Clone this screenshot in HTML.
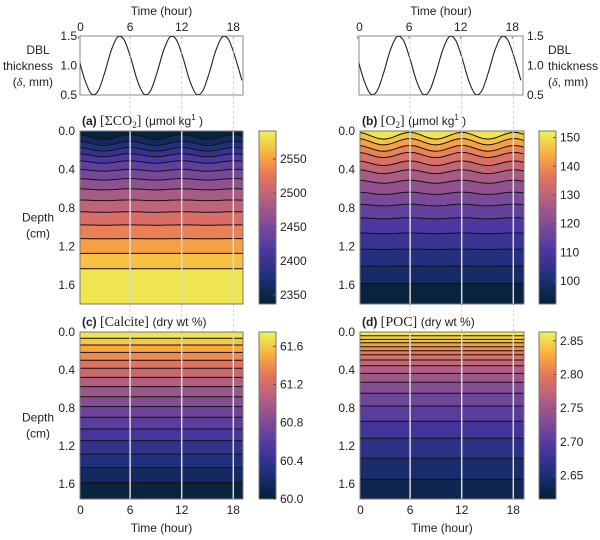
<!DOCTYPE html>
<html><head><meta charset="utf-8">
<style>
html,body{margin:0;padding:0;background:#fff;}
svg{display:block;font-family:"Liberation Sans",sans-serif;}
.t{font-size:12px;fill:#222;}
.s{font-family:"Liberation Serif",serif;font-size:14px;fill:#222;}
</style></head>
<body>
<svg id="fig" width="600" height="540" viewBox="0 0 600 540" xmlns="http://www.w3.org/2000/svg"></svg>
<script>
// ---- data ----
const dblHours = [0,0.76,1.52,2.28,3.04,3.8,4.56,5.32,6.08,6.84,7.6,8.36,9.12,9.88,10.64,11.4,12.16,12.92,13.68,14.44,15.2,15.96,16.72,17.48,18.24,19.0];
const dblValues = [1.125,0.746,0.516,0.569,0.875,1.253,1.484,1.431,1.126,0.747,0.516,0.568,0.874,1.25,1.484,1.431,1.127,0.748,0.516,0.568,0.873,1.25,1.484,1.432,1.128,0.749];
const dblTicks = [0.5,1.0,1.5];
const timeTicks = [0,6,12,18];
const depthTicks = [0.0,0.4,0.8,1.2,1.6];
const markerHours = [6,12,18];

const dicContourDepths = [0.062,0.128,0.190,0.252,0.322,0.408,0.502,0.606,0.720,0.842,0.977,1.119,1.271,1.431];
const dicWaveAmp = [0.025,0.022,0.019,0.016,0.013,0.010,0.008,0.006,0.004,0.003,0.002,0.001,0,0];
const dicBandValues = [2345,2362,2379,2396,2413,2430,2447,2464,2481,2498,2515,2532,2549,2566,2583];
const dicTicks = [2350,2400,2450,2500,2550];

const o2ContourDepths = [0.049,0.111,0.180,0.249,0.335,0.423,0.527,0.647,0.769,0.907,1.063,1.229,1.403,1.583];
const o2WaveAmp = [0.035,0.033,0.030,0.027,0.024,0.020,0.016,0.012,0.009,0.006,0.004,0.002,0.001,0];
const o2BandValues = [150.5,146.5,142.5,138.5,134.5,130.5,126.5,122.5,118.5,114.5,110.5,106.5,102.5,98.5,94];
const o2Ticks = [100,110,120,130,140,150];

const calContourDepths = [0.066,0.137,0.214,0.298,0.382,0.477,0.575,0.681,0.786,0.898,1.021,1.144,1.284,1.428,1.586];
const calBandValues = [61.70,61.60,61.49,61.38,61.27,61.16,61.05,60.94,60.83,60.72,60.61,60.50,60.39,60.28,60.17,60.06];
const calTicks = [60.0,60.4,60.8,61.2,61.6];

const pocContourDepths = [0.039,0.078,0.113,0.155,0.197,0.239,0.295,0.355,0.435,0.529,0.645,0.779,0.940,1.119,1.329,1.550];
const pocBandValues = [2.856,2.845,2.834,2.823,2.812,2.800,2.788,2.775,2.762,2.748,2.733,2.717,2.700,2.682,2.664,2.646,2.632];
const pocTicks = [2.65,2.70,2.75,2.80,2.85];

// ---- helpers ----
const NS="http://www.w3.org/2000/svg";
const svg=document.getElementById('fig');
function el(tag,attrs,parent){const e=document.createElementNS(NS,tag);for(const k in attrs)e.setAttribute(k,attrs[k]);(parent||svg).appendChild(e);return e;}
function txt(x,y,s,anchor,cls,parent){const e=el('text',{x:x,y:y,'text-anchor':anchor||'start',class:cls||'t'},parent);e.textContent=s;return e;}
const stops=[[0,[3,32,47]],[0.15,[29,47,120]],[0.3,[74,55,160]],[0.45,[123,75,151]],[0.6,[179,95,128]],[0.74,[230,116,93]],[0.86,[250,170,62]],[1,[235,246,86]]];
function cmap(v){v=Math.max(0,Math.min(1,v));for(let i=1;i<stops.length;i++){if(v<=stops[i][0]){const a=stops[i-1],b=stops[i];const f=(v-a[0])/(b[0]-a[0]);return 'rgb('+a[1].map((c,j)=>Math.round(c+(b[1][j]-c)*f)).join(',')+')';}}return 'rgb(235,246,86)';}
const PERIOD=6.07, CREST=5.95;

const defs=el('defs',{});
const grad=el('linearGradient',{id:'cgrad',x1:0,y1:1,x2:0,y2:0},defs);
for(let i=0;i<=20;i++){el('stop',{offset:i/20,'stop-color':cmap(i/20)},grad);}

function dblPlot(x0,x1,rightAxis,name){
  const y0=36,y1=95;
  const g=el('g',{});
  
  
  const xs=t=>x0-1.5+t*8.6;
  const ys=v=>y1-(v-0.5)/1.0*(y1-y0);
  el('rect',{x:x0,y:y0,width:x1-x0,height:y1-y0,fill:'#fff',stroke:'#888','stroke-width':1},g);
  const P=dblHours.map((h,i)=>[xs(h),ys(dblValues[i])]);
  let d='M'+P[0][0]+','+P[0][1];
  for(let i=0;i<P.length-1;i++){const p0=P[Math.max(0,i-1)],p1=P[i],p2=P[i+1],p3=P[Math.min(P.length-1,i+2)];
    d+=' C'+(p1[0]+(p2[0]-p0[0])/6)+','+(p1[1]+(p2[1]-p0[1])/6)+' '+(p2[0]-(p3[0]-p1[0])/6)+','+(p2[1]-(p3[1]-p1[1])/6)+' '+p2[0]+','+p2[1];}
  const cp=el('clipPath',{id:'clip'+name},defs);el('rect',{x:x0,y:y0,width:x1-x0,height:y1-y0},cp);
  const line=el('path',{d:d,fill:'none',stroke:'#222','stroke-width':1.1,'clip-path':'url(#clip'+name+')'},g);
  
  
  txt((x0+x1)/2,15,'Time (hour)','middle','t',g);
  for(const t of timeTicks){txt(xs(t)+(t===0?2:0),31,String(t),'middle','t',g);el('line',{x1:xs(t),x2:xs(t),y1:y0,y2:y0+3,stroke:'#888'},g);}
  for(const v of dblTicks){
    if(rightAxis){txt(x1+4,ys(v)+4,v.toFixed(1),'start','t',g);}
    else{txt(x0-3,ys(v)+4,v.toFixed(1),'end','t',g);}
  }
  const an=rightAxis?'start':'end';
  txt(rightAxis?548:38,54,'DBL',rightAxis?'start':'middle','t',g);
  txt(rightAxis?548:53,70,'thickness',an,'t',g);
  const l3=el('text',{x:rightAxis?548:53,y:86,'text-anchor':an,class:'t'},g);
  const ts=el('tspan',{},l3);ts.textContent='(';
  const ti=el('tspan',{'font-style':'italic','font-family':'Liberation Serif,serif'},l3);ti.textContent='δ';
  const t2=el('tspan',{},l3);t2.textContent=', mm)';
}

function heatPanel(o){
  const g=el('g',{});
  
  
  const {x0,x1,y0,y1,pxcm,vmin,vmax}=o;
  const xs=t=>x0-1.5+t*8.6;
  const ys=d=>y0+d*pxcm;
  const cp=el('clipPath',{id:'hc'+o.name},defs);el('rect',{x:x0,y:y0,width:x1-x0,height:y1-y0},cp);
  const inner=el('g',{'clip-path':'url(#hc'+o.name+')'},g);
  const N=40;
  function contourPts(k){const pts=[];for(let i=0;i<=N;i++){const t=-0.5+i*20/N;const amp=o.wave?o.wave[k]:0;
      const dd=o.depths[k]-amp*Math.cos(2*Math.PI*(t-CREST)/PERIOD);pts.push([xs(t),ys(dd)]);}return pts;}
  const norm=v=>(v-vmin)/(vmax-vmin);
  for(let b=0;b<o.bands.length;b++){
    let top,bot;
    if(b===0) top=[[x0-10,y0-5],[x1+10,y0-5]]; else top=contourPts(b-1);
    if(b===o.bands.length-1) bot=[[x1+10,y1+5],[x0-10,y1+5]]; else bot=contourPts(b).slice().reverse();
    const pts=top.concat(bot);
    const band=el('polygon',{points:pts.map(p=>p.join(',')).join(' '),fill:cmap(norm(o.bands[b]))},inner);
    
    
  }
  for(let k=0;k<o.depths.length;k++){
    const c=el('polyline',{points:contourPts(k).map(p=>p.join(',')).join(' '),fill:'none',stroke:'#111','stroke-width':1},inner);
    
    
  }
  for(const h of markerHours){el('line',{x1:xs(h),x2:xs(h),y1:y0,y2:y1,stroke:'#d8d8d8','stroke-width':1.5},inner);}
  el('rect',{x:x0,y:y0,width:x1-x0,height:y1-y0,fill:'none',stroke:'#777'},g);
  for(const d of depthTicks){txt(x0-5,ys(d)+4,d.toFixed(1),'end','t',g);}
  if(o.ylabel){txt(38,ys(0.9)+4,'Depth','middle','t',g);txt(38,ys(0.9)+20,'(cm)','middle','t',g);}
  if(o.xlabel){for(const t of timeTicks)txt(xs(t)+(t===0?2:0),y1+15,String(t),'middle','t',g);txt((x0+x1)/2,y1+33,'Time (hour)','middle','t',g);}
  const tt=el('text',{x:x0+2,y:y0-6,class:'t'},g);
  
  
  const a=el('tspan',{'font-weight':'bold'},tt);a.textContent=o.label+' ';
  for(const part of o.title){const s=el('tspan',part.a||{},tt);s.textContent=part.t;}
  const cb=el('g',{},g);
  
  
  const cx=o.cbx, cw=17;
  el('rect',{x:cx,y:y0,width:cw,height:y1-y0,fill:'url(#cgrad)',stroke:'#777'},cb);
  for(const v of o.ticks){const y=y1-norm(v)*(y1-y0);
    el('line',{x1:cx+cw-3,x2:cx+cw,y1:y,y2:y,stroke:'#555'},cb);
    txt(cx+cw+4,y+4,v.toFixed(o.dec),'start','t',cb);}
}

dblPlot(80,243,false,'dbl-plot-left');
dblPlot(359,523,true,'dbl-plot-right');

for(const base of [78.5,358.5]){for(const h of markerHours){const x=base+h*8.6;
  for(const seg of [[36,131],[304,332]]){el('line',{x1:x,x2:x,y1:seg[0],y2:seg[1],stroke:'#ccc','stroke-width':0.8,'stroke-dasharray':'3,2'});}}}

const sub2=[{t:'('},{t:'μmol kg'},{t:'1',a:{'font-size':'8','dy':'-5'}},{t:' )',a:{'dy':'5'}}];
heatPanel({name:'panel-a-dic',label:'(a)',x0:80,x1:243,y0:131,y1:304,pxcm:96.25,vmin:2337,vmax:2591,depths:dicContourDepths,wave:dicWaveAmp,bands:dicBandValues,ticks:dicTicks,dec:0,cbx:259,ylabel:true,xlabel:false,
  title:[{t:'[ΣCO',a:{class:'s'}},{t:'2',a:{'font-size':'9','dy':'3','font-family':'Liberation Serif'}},{t:'] ',a:{class:'s','dy':'-3'}}].concat(sub2)});
heatPanel({name:'panel-b-o2',label:'(b)',x0:360,x1:524,y0:131,y1:304,pxcm:96.25,vmin:92,vmax:152.3,depths:o2ContourDepths,wave:o2WaveAmp,bands:o2BandValues,ticks:o2Ticks,dec:0,cbx:539,ylabel:false,xlabel:false,
  title:[{t:'[O',a:{class:'s'}},{t:'2',a:{'font-size':'9','dy':'3','font-family':'Liberation Serif'}},{t:'] ',a:{class:'s','dy':'-3'}}].concat(sub2)});
heatPanel({name:'panel-c-calcite',label:'(c)',x0:80,x1:243,y0:332,y1:499,pxcm:95,vmin:60.0,vmax:61.75,depths:calContourDepths,wave:null,bands:calBandValues,ticks:calTicks,dec:1,cbx:259,ylabel:true,xlabel:true,
  title:[{t:'[Calcite] ',a:{class:'s'}},{t:'(dry wt %)'}]});
heatPanel({name:'panel-d-poc',label:'(d)',x0:360,x1:524,y0:332,y1:499,pxcm:95,vmin:2.615,vmax:2.863,depths:pocContourDepths,wave:null,bands:pocBandValues,ticks:pocTicks,dec:2,cbx:539,ylabel:false,xlabel:true,
  title:[{t:'[POC] ',a:{class:'s'}},{t:'(dry wt %)'}]});
</script>
</body></html>
